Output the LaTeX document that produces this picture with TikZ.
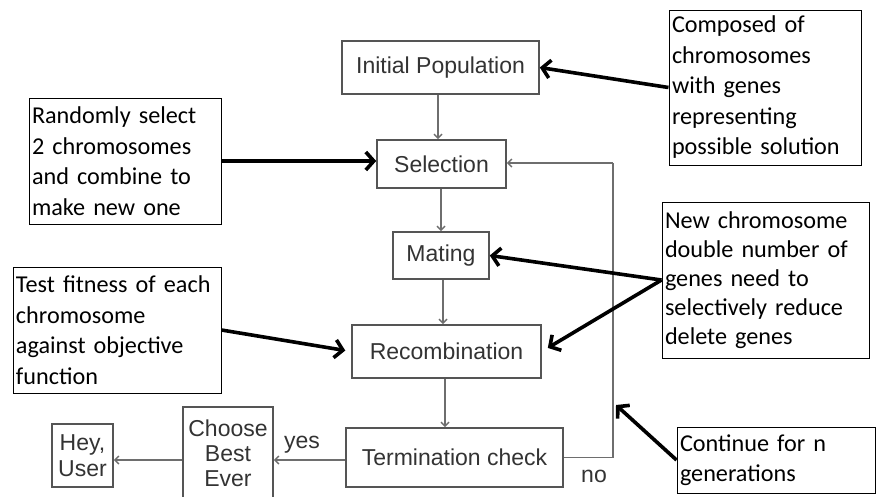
\documentclass[tikz,border=0pt]{standalone}
\usepackage{fontspec}
\setmainfont{Carlito}
\newfontfamily\hel{Liberation Sans}
\usetikzlibrary{arrows.meta}
\definecolor{flowtxt}{HTML}{333333}
\definecolor{flowbrd}{HTML}{555555}
\definecolor{flowln}{HTML}{6E6E6E}
\tikzset{
  flowbox/.style={draw=flowbrd, line width=1.6pt, text=flowtxt, font=\hel\fontsize{23}{25}\selectfont, align=center, inner sep=0pt},
  flowarrow/.style={draw=flowln, line width=1.4pt, -{Straight Barb[length=4pt,width=8pt]}},
  flowline/.style={draw=flowln, line width=1.4pt},
  notebox/.style={draw=black, line width=1pt, font=\fontsize{24.2}{30.5}\selectfont, align=left, inner xsep=3pt, inner ysep=0pt},
  notearrow/.style={draw=black, line width=3.6pt, -{Straight Barb[length=8pt,width=18pt]}},
  lbl/.style={text=flowtxt, font=\hel\fontsize{23}{25}\selectfont, inner sep=0pt}
}
\begin{document}
\begin{tikzpicture}[x=1pt,y=-1pt]
\useasboundingbox (0,0) rectangle (877,496);
\clip (0,0) rectangle (877,496);
\fill[white] (0,0) rectangle (877,496);
% flow boxes
\node[flowbox, minimum width=197pt, minimum height=53pt] (init) at (440.5,67.5) {Initial Population};
\node[flowbox, minimum width=129pt, minimum height=48pt] (sel) at (441.5,164) {Selection};
\node[flowbox, minimum width=96pt, minimum height=47pt] (mat) at (441,255.5) {Mating};
\node[flowbox, minimum width=189pt, minimum height=53pt] (rec) at (446.5,351.5) {Recombination};
\node[flowbox, minimum width=217pt, minimum height=59pt] (term) at (454.5,457.5) {Termination check};
\node[flowbox, minimum width=90pt, minimum height=92pt] (choose) at (228,453) {Choose\\Best\\Ever};
\node[flowbox, minimum width=61pt, minimum height=63pt, font=\hel\fontsize{23}{26}\selectfont] (hey) at (82.5,455.5) {Hey,\\User};
% flow connectors
\draw[flowarrow] (init.south -| 438,0) -- (sel.north -| 438,0);
\draw[flowarrow] (sel.south -| 441,0) -- (mat.north -| 441,0);
\draw[flowarrow] (mat.south -| 443,0) -- (rec.north -| 443,0);
\draw[flowarrow] (rec.south -| 445,0) -- (term.north -| 445,0);
\coordinate (lp) at (613,163);
\draw[flowline] (term.east) -| (lp);
\draw[flowarrow] (lp) -- (sel.east |- lp);
\draw[flowarrow] (term.west |- 0,460) -- (choose.east |- 0,460);
\draw[flowarrow] (choose.west |- 0,460) -- (hey.east |- 0,460);
\node[lbl] (yes) at (302,445) {yes};
\node[lbl] (no) at (594,476) {no};
% notes
\node[notebox, minimum width=192pt, minimum height=155pt, text width=186pt] (comp) at (765,87.5) {Composed of\\chromosomes\\with genes\\representing\\possible solution};
\node[notebox, minimum width=192pt, minimum height=126pt, text width=186pt] (rand) at (125,161) {Randomly select\\2 chromosomes\\and combine to\\make new one};
\node[notebox, minimum width=207pt, minimum height=156pt, text width=201pt, font=\fontsize{24.2}{29}\selectfont] (newc) at (765.5,280) {New chromosome\\double number of\\genes need to\\selectively reduce\\delete genes};
\node[notebox, minimum width=208pt, minimum height=126pt, text width=202pt] (test) at (117,330) {Test fitness of each\\chromosome\\against objective\\function};
\node[notebox, minimum width=198pt, minimum height=66pt, text width=192pt] (cont) at (776,460) {Continue for n\\generations};
% note arrows
\draw[notearrow] (comp.west) -- (init.east);
\draw[notearrow] (rand.east) -- (sel.west |- rand.east);
\draw[notearrow] (newc.west) -- (mat.east);
\draw[notearrow, shorten >=7pt] (newc.west) -- (rec.east);
\draw[notearrow, shorten >=6pt] (test.east) -- (rec.west);
\coordinate (lc) at (616,405);
\draw[notearrow] (cont.west) -- (lc);
\end{tikzpicture}
\end{document}
